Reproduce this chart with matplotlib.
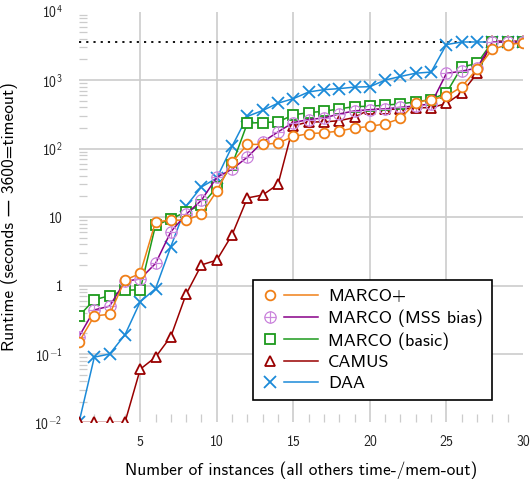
#!/usr/bin/env python3
# -*- coding: utf-8 -*-
""" Cactus plot: runtime of each solver on the instances it solves, sorted. """
import numpy as np
import matplotlib
matplotlib.use("Agg")
import matplotlib.pyplot as plt
from matplotlib.lines import Line2D
from matplotlib.legend_handler import HandlerBase
from matplotlib.ticker import FixedLocator, NullFormatter

plt.rcParams['font.family'] = ['cmss10', 'DejaVu Sans']
plt.rcParams['mathtext.fontset'] = 'custom'
plt.rcParams['mathtext.rm'] = 'cmss10'
plt.rcParams['mathtext.sf'] = 'cmss10'
plt.rcParams['axes.unicode_minus'] = False

TIMEOUT = 3600

# number of solved instances (x) and sorted runtimes in seconds (y)
instances = list(range(1, 31))
marco_plus = [0.15, 0.36, 0.38, 1.2, 1.5, 8.5, 9, 9, 11, 24, 63, 115, 115, 120, 150,
              165, 170, 180, 200, 210, 230, 275, 470, 520, 580, 800, 1450, 2800, 3300, 3500]
marco_mss = [0.18, 0.44, 0.5, 1.15, 1.25, 2.1, 6.1, 11, 17.6, 38, 50, 75, 125, 175, 240,
             265, 280, 320, 355, 370, 380, 400, 420, 450, 1250, 1350, 1500, 3600, 3600, 3600]
marco_basic = [0.36, 0.62, 0.71, 0.85, 0.87, 7.6, 9.3, 12, 15, 27, 58, 235, 240, 245, 310,
               335, 350, 380, 410, 415, 430, 450, 480, 520, 650, 1550, 1750, 3600, 3600, 3550]
camus = [0.01, 0.01, 0.01, 0.01, 0.06, 0.09, 0.18, 0.75, 2.0, 2.35, 5.5, 19, 21, 30, 215,
         245, 245, 255, 285, 375, 375, 375, 395, 395, 455, 650, 1250, 3700, 3700, 3700]
daa = [0.01, 0.09, 0.1, 0.19, 0.58, 0.9, 3.7, 14.5, 27.5, 37, 108, 295, 360, 460, 535,
       670, 725, 750, 790, 800, 1000, 1130, 1260, 1310, 3300, 3600, 3600, 3600, 3600, 3600]

ytick_values = [1e-2, 1e-1, 1, 10, 1e2, 1e3, 1e4]
ytick_labels = [r'$10^{-2}$', r'$10^{-1}$', '1', '10', r'$10^{2}$', r'$10^{3}$', r'$10^{4}$']
xtick_values = [5, 10, 15, 20, 25, 30]

# (label, data, line colour, marker, marker colour) -- drawn bottom to top
series = [
    ("DAA", daa, '#1b8ad8', 'x', '#1b8ad8'),
    ("CAMUS", camus, '#990000', '^', '#990000'),
    ("MARCO (basic)", marco_basic, '#1c9a1c', 's', '#1c9a1c'),
    ("MARCO (MSS bias)", marco_mss, '#880088', '$\\oplus$', '#cc88dd'),
    ("MARCO+", marco_plus, '#f08018', 'o', '#f08018'),
]


class MarkThenLine(HandlerBase):
    """ Legend entry: the marker on its own, then a plain line segment. """

    def create_artists(self, legend, orig, xdescent, ydescent, width, height,
                       fontsize, trans):
        y = height / 2.0 - ydescent
        mark = Line2D([0.14 * width - xdescent], [y], ls='None', marker=orig.get_marker(),
                      ms=orig.get_markersize(), mec=orig.get_markeredgecolor(),
                      mfc=orig.get_markerfacecolor(), mew=orig.get_markeredgewidth())
        line = Line2D([0.39 * width - xdescent, width - xdescent], [y, y],
                      color=orig.get_color(), lw=orig.get_linewidth())
        mark.set_transform(trans)
        line.set_transform(trans)
        return [mark, line]


fig = plt.figure(figsize=(5.32, 4.83), dpi=100)
ax = fig.add_axes([0.1485, 0.1253, 0.8345, 0.8507])

handles = {}
for label, data, lc, mk, mc in series:
    if mk.startswith('$'):
        ms, mew = 8.5, 0.5
    elif mk == 'x':
        ms, mew = 8.5, 1.3
    else:
        ms, mew = 7, 1.3
    h, = ax.plot(instances, data, color=lc, lw=1.1, marker=mk, ms=ms,
                 mec=mc, mfc='white' if mk != 'x' else mc, mew=mew, label=label)
    handles[label] = h

ax.plot([1, 30], [TIMEOUT, TIMEOUT], color='black', ls=(0, (1.2, 2.8)), lw=1.3, zorder=1)

ax.set_yscale('log')
ax.set_xlim(1, 30)
ax.set_ylim(1e-2, 1e4)

ax.set_yticks(ytick_values)
ax.set_yticklabels(ytick_labels)
ax.set_xticks(xtick_values)
ax.yaxis.set_minor_locator(FixedLocator([m * 10.0 ** e for e in range(-2, 4) for m in range(2, 10)]))
ax.yaxis.set_minor_formatter(NullFormatter())
ax.xaxis.set_minor_locator(FixedLocator([i for i in range(2, 30) if i % 5]))

ax.tick_params(which='major', length=0, labelsize=10, colors='#222222')
ax.tick_params(axis='x', which='major', pad=9)
ax.tick_params(axis='y', which='major', pad=12)
ax.tick_params(which='minor', direction='in', length=5.5, width=0.9, color='#cccccc')

ax.grid(True, which='major', color='#cccccc', lw=1.2)
ax.set_axisbelow(True)
for s in ax.spines.values():
    s.set_visible(False)

fig.canvas.draw()
# no grid lines along the edges of the plot area
for g, v in zip(ax.yaxis.get_gridlines(), ax.get_yticks()):
    if v <= 1e-2 or v >= 1e4:
        g.set_visible(False)
for g, v in zip(ax.xaxis.get_gridlines(), ax.get_xticks()):
    if v >= 30:
        g.set_visible(False)

ax.set_xlabel("Number of instances (all others time-/mem-out)", fontsize=12.5, labelpad=9)
ax.set_ylabel("Runtime (seconds — 3600=timeout)", fontsize=12.5, labelpad=12)

order = ["MARCO+", "MARCO (MSS bias)", "MARCO (basic)", "CAMUS", "DAA"]
leg = ax.legend([handles[k] for k in order], order, loc='lower right',
                bbox_to_anchor=(0.930, 0.0547), borderaxespad=0, fancybox=False,
                framealpha=1, edgecolor='black', fontsize=13, handlelength=3.1,
                labelspacing=0.28, borderpad=0.5, handletextpad=0.55,
                handler_map={Line2D: MarkThenLine()})
leg.get_frame().set_linewidth(1.2)

fig.savefig("out.png", dpi=100)
